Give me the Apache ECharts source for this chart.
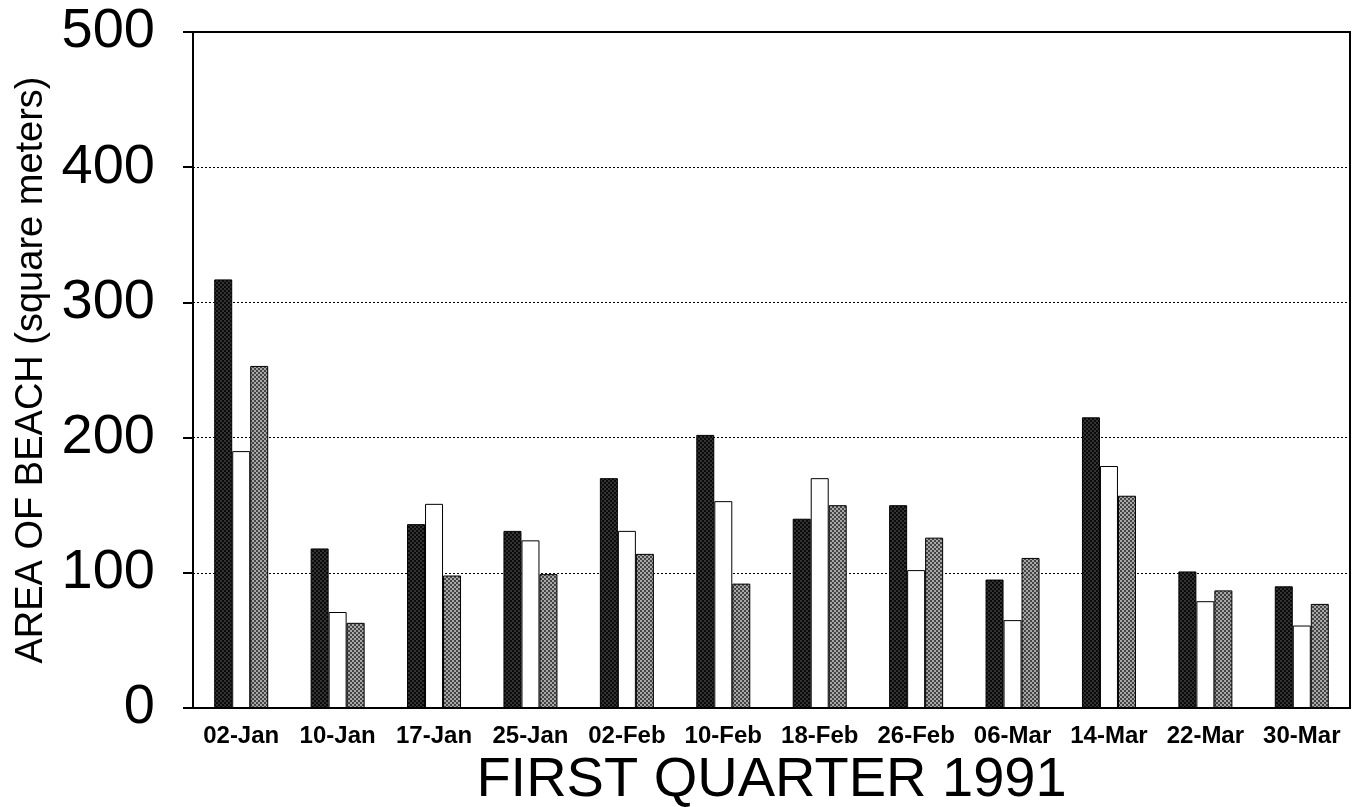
<!DOCTYPE html>
<html lang="en">
<head>
    <meta charset="UTF-8">
    <title>Area of beach - first quarter 1991</title>
    <script type="text/javascript" src="https://cdn.jsdelivr.net/npm/echarts@6/dist/echarts.min.js"></script>
    <style type="text/css">
        html,body{margin:0;padding:0;background:#fff;}
        #main{width:1352px;height:807px;}
    </style>
</head>
<body>
<div id="main"></div>
<script type="text/javascript">
    // categories (sample dates)
    var dates = ["02-Jan","10-Jan","17-Jan","25-Jan","02-Feb","10-Feb","18-Feb","26-Feb","06-Mar","14-Mar","22-Mar","30-Mar"];
    // three series
    var blackVals = [317, 118, 136, 131, 170, 202, 140, 150, 95, 215, 101, 90];
    var whiteVals = [190, 71, 151, 124, 131, 153, 170, 102, 65, 179, 79, 61];
    var grayVals  = [253, 63, 98, 99, 114, 92, 150, 126, 111, 157, 87, 77];
    var yTicks = [0, 100, 200, 300, 400, 500];

    //small stipple patterns for the filled bars
    function makePattern(c1, c2) {
        var cv = document.createElement('canvas');
        cv.width = 4; cv.height = 4;
        var ctx = cv.getContext('2d');
        ctx.fillStyle = c1;
        ctx.fillRect(0, 0, 4, 4);
        ctx.fillStyle = c2;
        ctx.fillRect(0, 0, 2, 2);
        ctx.fillRect(2, 2, 2, 2);
        return {image: cv, repeat: 'repeat'};
    }
    var blackFill = makePattern('#0a0a0a', '#333');
    var grayFill = makePattern('#444', '#a8a8a8');

    var font = 'Arial, "Liberation Sans", sans-serif';
    var myChart = echarts.init(document.getElementById('main'));

    function barSeries(name, data, fill) {
        return {
            name: name,
            type: 'bar',
            data: data,
            barWidth: 18,
            barGap: '0%',
            itemStyle: {color: fill, borderColor: '#000', borderWidth: 1}
        };
    }

    var option = {
        animation: false,
        backgroundColor: '#fff',
        grid: {left: 193, right: 2, top: 32, bottom: 99, outerBoundsMode: 'none', containLabel: false,
            show: true, borderColor: '#000', borderWidth: 2, backgroundColor: 'transparent'},
        xAxis: {
            type: 'category',
            data: dates,
            name: 'FIRST QUARTER 1991',
            nameLocation: 'middle',
            nameGap: 44,
            nameTextStyle: {fontFamily: font, fontSize: 56, color: '#000'},
            axisLine: {lineStyle: {color: '#000', width: 2}},
            axisTick: {length: 12, lineStyle: {color: '#000', width: 2}},
            axisLabel: {interval: 0, margin: 16, fontFamily: font, fontSize: 24, fontWeight: 'bold', color: '#000'}
        },
        yAxis: {
            type: 'value',
            min: yTicks[0],
            max: yTicks[yTicks.length - 1],
            interval: 100,
            name: 'AREA OF BEACH (square meters)',
            nameLocation: 'middle',
            nameGap: 142,
            nameTextStyle: {fontFamily: font, fontSize: 38, color: '#000'},
            axisLine: {show: true, lineStyle: {color: '#000', width: 2}},
            axisTick: {show: true, length: 10, lineStyle: {color: '#000', width: 2}},
            axisLabel: {margin: 38, fontFamily: font, fontSize: 56, color: '#000'},
            splitLine: {show: true, lineStyle: {color: '#000', width: 1, type: [2, 2]}}
        },
        series: [
            barSeries('black', blackVals, blackFill),
            barSeries('white', whiteVals, '#fff'),
            barSeries('gray', grayVals, grayFill)
        ]
    };

    myChart.setOption(option);
</script>
</body>
</html>
